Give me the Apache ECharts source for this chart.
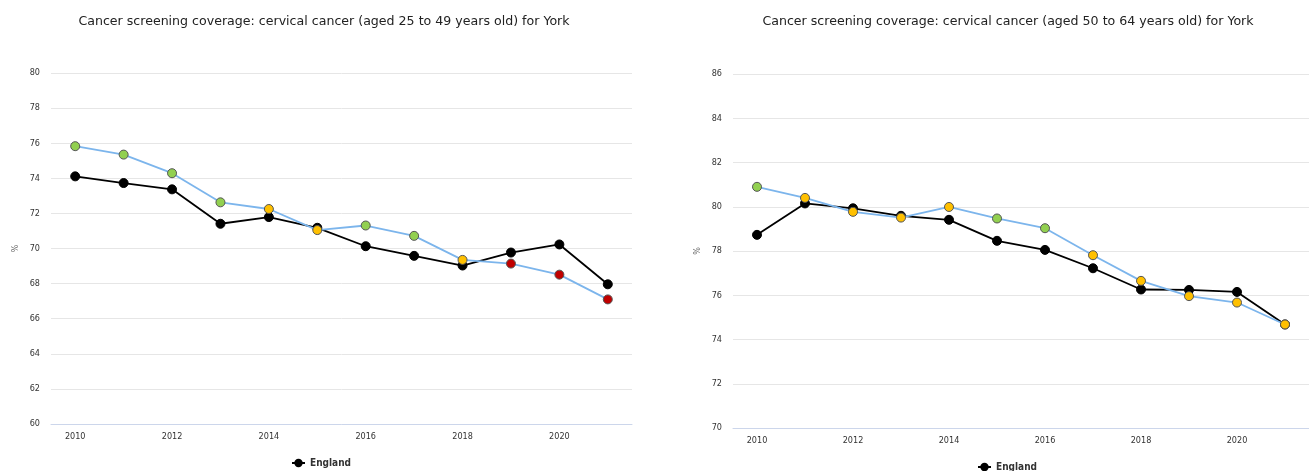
<!DOCTYPE html>
<html>
<head>
<meta charset="utf-8">
<script src="https://cdn.jsdelivr.net/npm/echarts@6/dist/echarts.min.js"></script>
<style>
html,body{margin:0;padding:0;background:#fff;overflow:hidden;}
#c{width:1309px;height:471px;}
</style>
</head>
<body>
<div id="c"></div>
<script>
const years = ['2010','2011','2012','2013','2014','2015','2016','2017','2018','2019','2020','2021'];

const titleLeft = 'Cancer screening coverage: cervical cancer (aged 25 to 49 years old) for York';
const titleRight = 'Cancer screening coverage: cervical cancer (aged 50 to 64 years old) for York';

const york2549 = [75.83, 75.35, 74.29, 72.63, 72.25, 71.05, 71.31, 70.72, 69.35, 69.14, 68.51, 67.10];
const england2549 = [74.11, 73.73, 73.37, 71.41, 71.79, 71.18, 70.13, 69.58, 69.03, 69.77, 70.23, 67.96];
const york2549Compare = ['better','better','better','better','similar','similar','better','better','similar','worse','worse','worse'];

const york5064 = [80.90, 80.40, 79.77, 79.51, 79.99, 79.47, 79.03, 77.81, 76.65, 75.96, 75.67, 74.68];
const england5064 = [78.73, 80.15, 79.93, 79.59, 79.41, 78.46, 78.05, 77.22, 76.26, 76.24, 76.15, 74.68];
const york5064Compare = ['better','similar','similar','similar','similar','better','better','similar','similar','similar','similar','similar'];

const leftTicks = {min: 60, max: 80, interval: 2};
const rightTicks = {min: 70, max: 86, interval: 2};

const compareColors = {better: '#92D050', similar: '#FFC000', worse: '#C00000'};
const TITLE_FONT = '"DejaVu Sans", Verdana, sans-serif';
const LABEL_FONT = '"DejaVu Sans Condensed", "DejaVu Sans", sans-serif';

function yorkData(vals, cmp) {
  return vals.map((v, i) => ({
    value: v,
    itemStyle: {color: compareColors[cmp[i]], borderColor: '#555', borderWidth: 1}
  }));
}

function xAxis(gi) {
  return {
    type: 'category', gridIndex: gi, data: years, boundaryGap: true,
    axisLine: {lineStyle: {color: '#ccd6eb', width: 1}},
    axisTick: {alignWithLabel: true, interval: 0, length: 5, lineStyle: {color: '#ccd6eb'}},
    axisLabel: {interval: 1, fontSize: 9, color: '#333', margin: 8, fontFamily: LABEL_FONT},
    splitLine: {show: false}
  };
}
function yAxis(gi, t, gap) {
  return {
    type: 'value', gridIndex: gi, min: t.min, max: t.max, interval: t.interval,
    name: '%', nameLocation: 'middle', nameRotate: 90, nameGap: gap,
    nameTextStyle: {fontSize: 9, color: '#666', fontFamily: LABEL_FONT},
    axisLine: {show: false}, axisTick: {show: false},
    axisLabel: {fontSize: 9, color: '#333', margin: 11, fontFamily: LABEL_FONT},
    splitLine: {lineStyle: {color: '#e6e6e6', width: 1}}
  };
}
function englandSeries(xi, data) {
  return {
    name: 'England', type: 'line', xAxisIndex: xi, yAxisIndex: xi, data: data,
    symbol: 'circle', symbolSize: 9,
    lineStyle: {color: '#000', width: 1.8},
    itemStyle: {color: '#000', borderColor: '#000', borderWidth: 1},
    z: 2, animation: false
  };
}
function yorkSeries(xi, vals, cmp) {
  return {
    name: 'York', type: 'line', xAxisIndex: xi, yAxisIndex: xi, data: yorkData(vals, cmp),
    symbol: 'circle', symbolSize: 9,
    lineStyle: {color: '#7cb5ec', width: 1.8},
    itemStyle: {color: '#7cb5ec'},
    z: 3, animation: false
  };
}

const chart = echarts.init(document.getElementById('c'), null, {renderer: 'canvas'});
chart.setOption({
  animation: false,
  backgroundColor: '#fff',
  title: [
    {text: titleLeft, left: 319, top: 10, textAlign: 'center',
     textStyle: {fontSize: 12.6, fontWeight: 'normal', color: '#222', fontFamily: TITLE_FONT}},
    {text: titleRight, left: 1003, top: 10, textAlign: 'center',
     textStyle: {fontSize: 12.6, fontWeight: 'normal', color: '#222', fontFamily: TITLE_FONT}}
  ],
  legend: [
    {data: ['England'], left: 286, top: 453, itemWidth: 13, itemHeight: 8, itemGap: 4,
     textStyle: {fontSize: 10, fontWeight: 'bold', color: '#333', fontFamily: LABEL_FONT}},
    {data: ['England'], left: 972, top: 457, itemWidth: 13, itemHeight: 8, itemGap: 4,
     textStyle: {fontSize: 10, fontWeight: 'bold', color: '#333', fontFamily: LABEL_FONT}}
  ],
  grid: [
    {left: 51, width: 581, top: 73, height: 351},
    {left: 733, width: 588, top: 74, height: 354}
  ],
  xAxis: [xAxis(0), xAxis(1)],
  yAxis: [yAxis(0, leftTicks, 31), yAxis(1, rightTicks, 31)],
  series: [
    englandSeries(0, england2549),
    yorkSeries(0, york2549, york2549Compare),
    englandSeries(1, england5064),
    yorkSeries(1, york5064, york5064Compare)
  ]
});
</script>
</body>
</html>
